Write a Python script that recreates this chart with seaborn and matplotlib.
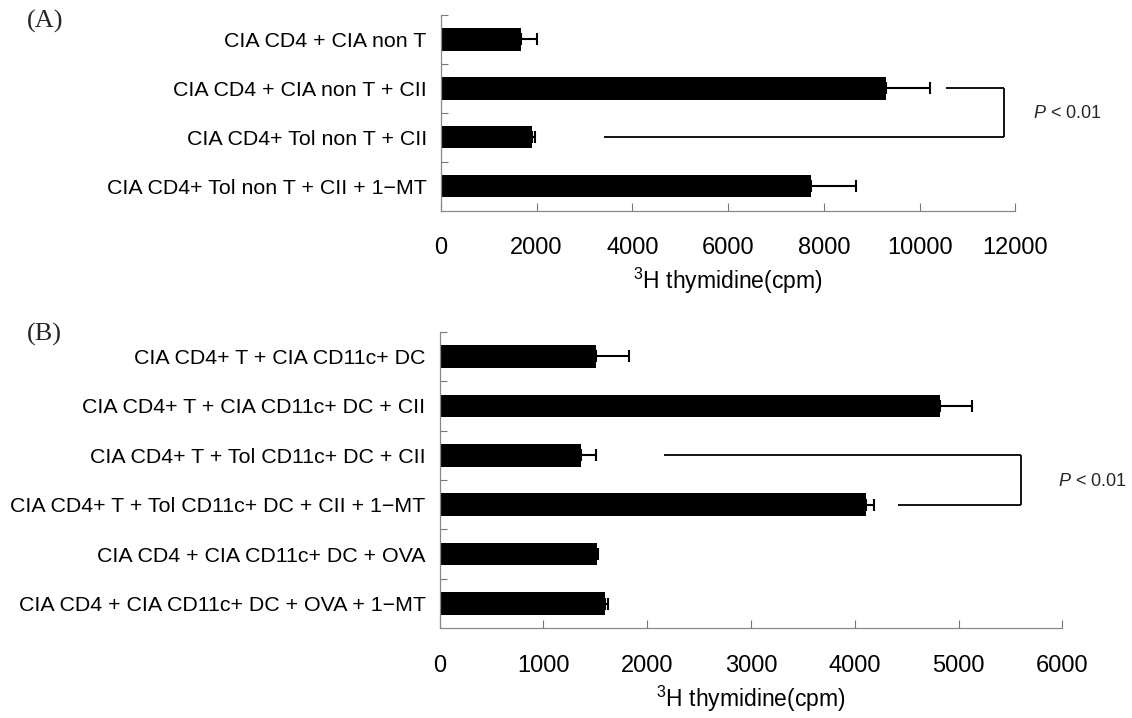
import matplotlib
matplotlib.use("Agg")
import matplotlib.pyplot as plt
import seaborn as sns
import numpy as np

# ---------------- data ----------------
labels_a = ["CIA CD4 + CIA non T",
            "CIA CD4 + CIA non T + CII",
            "CIA CD4+ Tol non T + CII",
            "CIA CD4+ Tol non T + CII + 1\u2212MT"]
means_a = [1670, 9300, 1910, 7730]
errs_a = [330, 910, 60, 930]

labels_b = ["CIA CD4+ T + CIA CD11c+ DC",
            "CIA CD4+ T + CIA CD11c+ DC + CII",
            "CIA CD4+ T + Tol CD11c+ DC + CII",
            "CIA CD4+ T + Tol CD11c+ DC + CII + 1\u2212MT",
            "CIA CD4 + CIA CD11c+ DC + OVA",
            "CIA CD4 + CIA CD11c+ DC + OVA + 1\u2212MT"]
means_b = [1505, 4820, 1360, 4105, 1520, 1595]
errs_b = [320, 310, 150, 80, 10, 30]

xticks_a = [0, 2000, 4000, 6000, 8000, 10000, 12000]
xticks_b = [0, 1000, 2000, 3000, 4000, 5000, 6000]

# significance brackets: (row1, row2, x_start_row1, x_start_row2, x_right)
bracket_a = (1, 2, 10550, 3400, 11750)
bracket_b = (2, 3, 2160, 4420, 5600)
sig_text = r"$\mathit{P}$ < 0.01"
xlabel_text = r"$^{3}$H thymidine(cpm)"

# ---------------- style ----------------
sns.set_theme(style="white")
plt.rcParams["font.family"] = ["Liberation Sans", "DejaVu Sans"]
plt.rcParams["mathtext.fontset"] = "custom"
plt.rcParams["mathtext.rm"] = "Liberation Sans"
plt.rcParams["mathtext.it"] = "Liberation Sans:italic"

W, H = 1132, 718
fig = plt.figure(figsize=(W / 100, H / 100), dpi=100)


def ax_rect(left, right, top, bottom):
    return [left / W, 1 - bottom / H, (right - left) / W, (bottom - top) / H]


ax_a = fig.add_axes(ax_rect(440.7, 1015.5, 15, 210.7))
ax_b = fig.add_axes(ax_rect(439.5, 1062.3, 331.7, 628.3))


def draw_panel(ax, labels, means, errs, xticks, bracket):
    n = len(labels)
    sns.barplot(x=means, y=labels, color="black", width=0.455, ax=ax,
                errorbar=None, saturation=1, edgecolor="black", linewidth=0)
    ax.errorbar(means, np.arange(n), xerr=[np.zeros(n), errs], fmt="none",
                ecolor="black", elinewidth=1.5, capsize=4, capthick=1.5)
    ax.set_xlim(xticks[0], xticks[-1])
    ax.set_ylim(n - 0.5, -0.5)
    ax.set_xticks(xticks)
    ax.set_xticklabels([str(t) for t in xticks])
    ax.set_yticks(np.arange(-0.5, n - 0.5, 1.0), minor=True)
    ax.tick_params(axis="y", which="major", length=0, pad=10, labelsize=15.4,
                   labelcolor="black")
    ax.tick_params(axis="y", which="minor", direction="in", length=5,
                   width=0.8, color="#777777", left=True)
    ax.tick_params(axis="x", which="major", direction="in", length=6,
                   width=0.8, color="#777777", pad=19, labelsize=17,
                   labelcolor="black", bottom=True)
    for s in ["top", "right"]:
        ax.spines[s].set_visible(False)
    for s in ["left", "bottom"]:
        ax.spines[s].set_color("#888888")
        ax.spines[s].set_linewidth(0.9)
    ax.set_xlabel(xlabel_text, fontsize=16.5, labelpad=5, color="black")
    ax.set_ylabel("")
    # bracket
    r1, r2, xs1, xs2, xr = bracket
    kw = dict(color="black", lw=1.3, clip_on=False, solid_capstyle="butt")
    ax.plot([xs1, xr], [r1, r1], **kw)
    ax.plot([xs2, xr], [r2, r2], **kw)
    ax.plot([xr, xr], [r1, r2], **kw)


draw_panel(ax_a, labels_a, means_a, errs_a, xticks_a, bracket_a)
draw_panel(ax_b, labels_b, means_b, errs_b, xticks_b, bracket_b)

fig.text(1033 / W, 1 - 114 / H, sig_text, fontsize=13, va="center", ha="left")
fig.text(1058 / W, 1 - 481 / H, sig_text, fontsize=13, va="center", ha="left")

fig.text(27 / W, 1 - 21 / H, "(A)", fontsize=19, va="center", ha="left",
         family=["Liberation Serif", "DejaVu Serif"])
fig.text(27 / W, 1 - 334 / H, "(B)", fontsize=19, va="center", ha="left",
         family=["Liberation Serif", "DejaVu Serif"])

fig.savefig("out.png", dpi=100, facecolor="white")
